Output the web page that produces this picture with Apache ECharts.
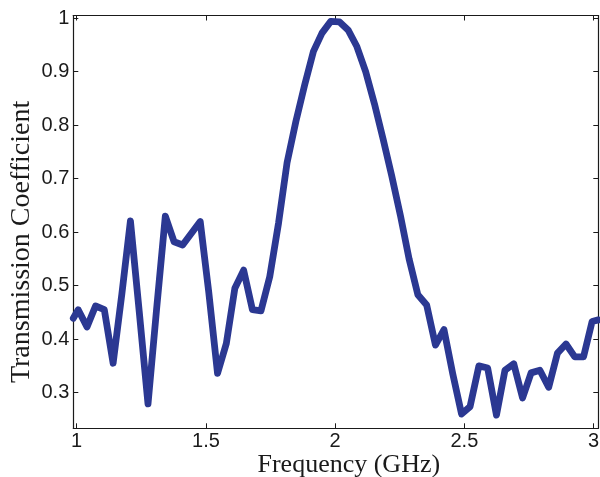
<!DOCTYPE html>
<html>
<head>
<meta charset="utf-8">
<script src="https://cdn.jsdelivr.net/npm/echarts@6/dist/echarts.min.js"></script>
<style>html,body{margin:0;padding:0;background:#fff}#c{width:600px;height:477px}</style>
</head>
<body>
<div id="c"></div>
<script>
// Frequency samples (GHz) and transmission coefficient values
const frequency = [0.987, 1.006, 1.040, 1.073, 1.107, 1.141, 1.175, 1.208, 1.242, 1.276, 1.309,
  1.343, 1.377, 1.410, 1.444, 1.478, 1.511, 1.545, 1.579, 1.612, 1.646,
  1.680, 1.713, 1.747, 1.781, 1.814, 1.848, 1.882, 1.916, 1.949, 1.983,
  2.017, 2.050, 2.084, 2.118, 2.152, 2.185, 2.219, 2.253, 2.286, 2.320,
  2.354, 2.388, 2.421, 2.455, 2.489, 2.522, 2.556, 2.590, 2.624, 2.657,
  2.691, 2.725, 2.758, 2.792, 2.826, 2.860, 2.893, 2.927, 2.961, 2.994, 3.018];
const transmission = [0.439, 0.455, 0.423, 0.462, 0.455, 0.355, 0.485, 0.621, 0.452, 0.279, 0.455,
  0.630, 0.582, 0.576, 0.598, 0.620, 0.488, 0.336, 0.392, 0.495, 0.529,
  0.455, 0.453, 0.517, 0.617, 0.730, 0.807, 0.875, 0.938, 0.972, 0.994,
  0.993, 0.978, 0.947, 0.900, 0.840, 0.775, 0.705, 0.630, 0.550, 0.483,
  0.464, 0.389, 0.418, 0.335, 0.260, 0.274, 0.350, 0.346, 0.258, 0.342,
  0.354, 0.290, 0.337, 0.342, 0.310, 0.374, 0.391, 0.367, 0.367, 0.433, 0.436];
const xTicks = [1, 1.5, 2, 2.5, 3];
const yTicks = [0.3, 0.4, 0.5, 0.6, 0.7, 0.8, 0.9, 1];
const xRange = [0.987, 3.018];
const yRange = [0.2334, 1.005];

const chart = echarts.init(document.getElementById('c'), null, {renderer: 'canvas'});
const axisColor = '#1a1a1a';
const tickFont = {fontFamily: 'Liberation Sans, Arial, sans-serif', fontSize: 20, color: '#1a1a1a'};
const titleFont = {fontFamily: 'Liberation Serif, Times New Roman, serif', color: '#1a1a1a'};
const fmt = v => String(Math.round(v * 10) / 10);

function xAx(pos, showLabel) {
  return {
    type: 'value', position: pos, min: xRange[0], max: xRange[1],
    axisLine: {show: true, onZero: false, lineStyle: {color: axisColor, width: 1.2}},
    axisTick: {show: true, inside: true, length: 5, customValues: xTicks, lineStyle: {color: axisColor}},
    axisLabel: {show: showLabel, customValues: xTicks, formatter: fmt, margin: 3, ...tickFont},
    splitLine: {show: false},
    name: showLabel ? 'Frequency (GHz)' : '',
    nameLocation: 'middle', nameGap: 24, nameMoveOverlap: false,
    nameTextStyle: {...titleFont, fontSize: 26, padding: [0, 0, 0, 26]}
  };
}
function yAx(pos, showLabel) {
  return {
    type: 'value', position: pos, min: yRange[0], max: yRange[1],
    axisLine: {show: true, onZero: false, lineStyle: {color: axisColor, width: 1.2}},
    axisTick: {show: true, inside: true, length: 5, customValues: yTicks, lineStyle: {color: axisColor}},
    axisLabel: {show: showLabel, customValues: yTicks, formatter: fmt, margin: 4, ...tickFont},
    splitLine: {show: false},
    name: showLabel ? 'Transmission Coefficient' : '',
    nameLocation: 'middle', nameGap: 38, nameRotate: 90, nameMoveOverlap: false,
    nameTextStyle: {...titleFont, fontSize: 28, padding: [0, 40, 0, 0]}
  };
}

chart.setOption({
  animation: false,
  backgroundColor: '#ffffff',
  grid: {left: 73.3, right: 1.7, top: 15.5, bottom: 48.7, containLabel: false, outerBoundsMode: 'none'},
  xAxis: [xAx('bottom', true), xAx('top', false)],
  yAxis: [yAx('left', true), yAx('right', false)],
  series: [{
    type: 'line',
    data: frequency.map((f, i) => [f, transmission[i]]),
    showSymbol: false,
    clip: true,
    lineStyle: {color: '#2b3892', width: 6.8, join: 'round', cap: 'round'},
    itemStyle: {color: '#2b3892'}
  }]
});
</script>
</body>
</html>
